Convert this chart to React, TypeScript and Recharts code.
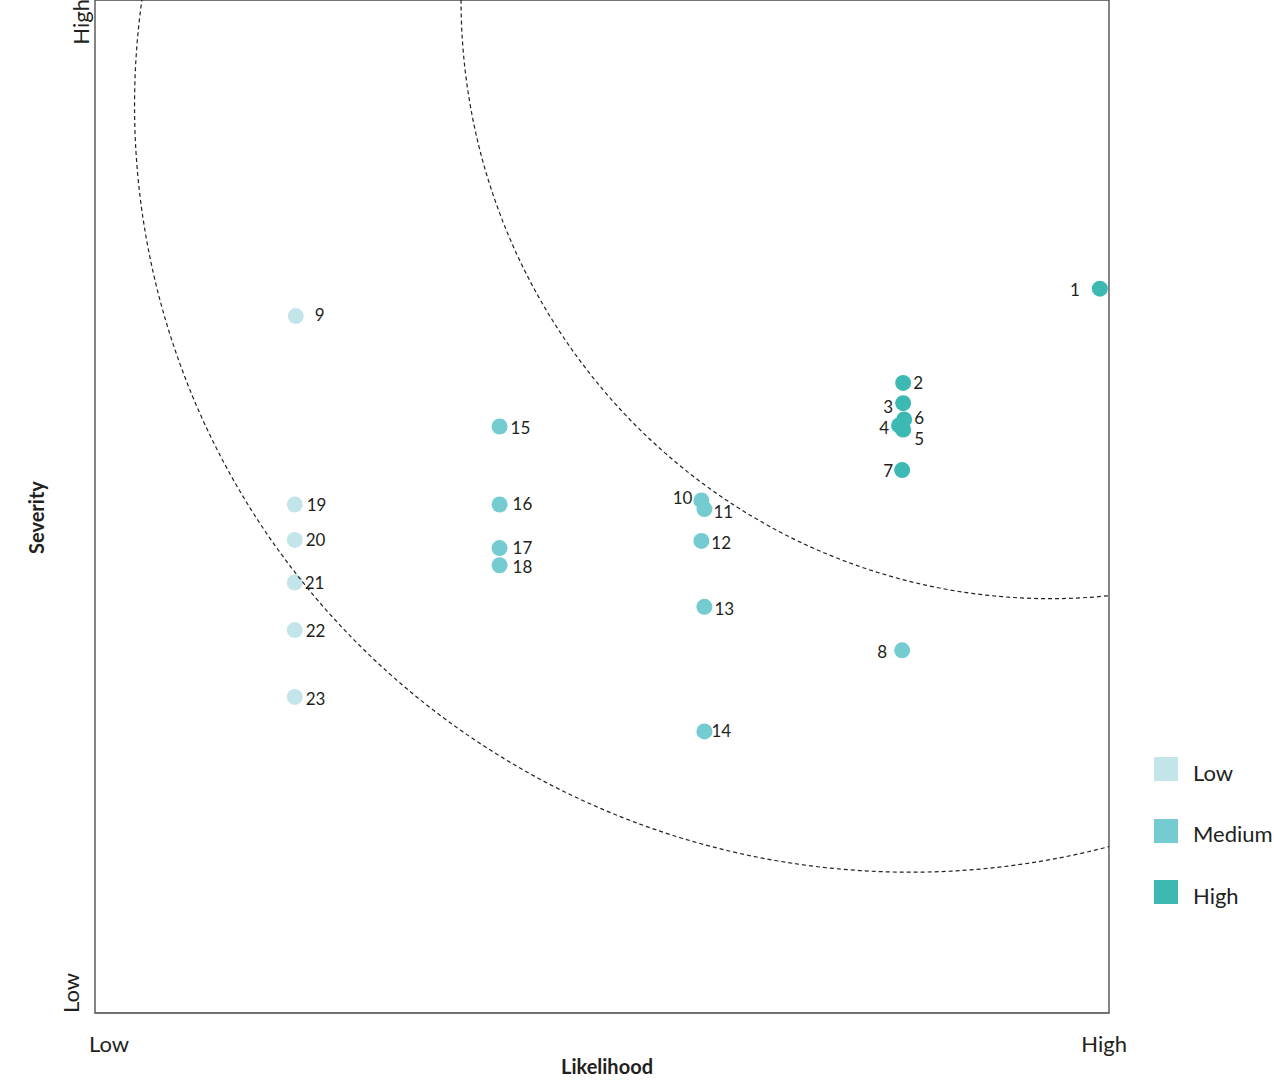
import React from 'react';
import {
  Legend,
  ReferenceArea,
  ReferenceDot,
  Scatter,
  ScatterChart,
  XAxis,
  YAxis,
} from 'recharts';

// risk ids, likelihood (x) and severity (y) on a 0-100 scale
const lowIds = [9, 19, 20, 21, 22, 23];
const lowLikelihood = [19.8, 19.7, 19.7, 19.7, 19.7, 19.7];
const lowSeverity = [68.8, 50.2, 46.7, 42.5, 37.8, 31.2];

const mediumIds = [8, 10, 11, 12, 13, 14, 15, 16, 17, 18];
const mediumLikelihood = [79.6, 59.8, 60.1, 59.8, 60.1, 60.1, 39.9, 39.9, 39.9, 39.9];
const mediumSeverity = [35.8, 50.6, 49.75, 46.6, 40.1, 27.8, 57.9, 50.2, 45.9, 44.2];

const highIds = [1, 2, 3, 4, 5, 6, 7];
const highLikelihood = [99.1, 79.7, 79.7, 79.3, 79.7, 79.8, 79.6];
const highSeverity = [71.5, 62.2, 60.2, 58.0, 57.6, 58.6, 53.6];

// dashed threshold arcs: centre and radii in data units
const arcCenterX = [80.4, 94.2];
const arcCenterY = [89.6, 100];
const arcRadiusX = [76.5, 58.1];
const arcRadiusY = [75.7, 59.1];

const axisTicks = [0, 100];
const axisTickLabels = ['Low', 'High'];

const COLORS = { Low: '#c3e5e9', Medium: '#74cbd0', High: '#3bb9b2' };
const TEXT = '#231f20';
const FONT = 'Lato, "Open Sans", sans-serif';

const WIDTH = 1274;
const HEIGHT = 1082;
const PLOT_LEFT = 95;
const PLOT_TOP = 0;
const PLOT_W = 1014;
const PLOT_H = 1013;

const toRows = (ids: number[], xs: number[], ys: number[]) =>
  ids.map((id, i) => ({ id, x: xs[i], y: ys[i] }));

const series = [
  { name: 'Low', data: toRows(lowIds, lowLikelihood, lowSeverity) },
  { name: 'Medium', data: toRows(mediumIds, mediumLikelihood, mediumSeverity) },
  { name: 'High', data: toRows(highIds, highLikelihood, highSeverity) },
] as const;

const arcs = arcCenterX.map((cx, i) => ({
  cx,
  cy: arcCenterY[i],
  rx: arcRadiusX[i],
  ry: arcRadiusY[i],
}));

// label placement next to each dot: [dx, dy, anchor]
const labelPlacement: Record<number, [number, number, 'start' | 'end']> = {
  1: [-20, 1, 'end'],
  3: [-10, 4, 'end'],
  4: [-10, 3, 'end'],
  5: [11, 9, 'start'],
  6: [10, -1, 'start'],
  7: [-9, 1, 'end'],
  8: [-15, 2, 'end'],
  9: [19, -1, 'start'],
  10: [-9, -2, 'end'],
  11: [9, 3, 'start'],
  12: [10, 2, 'start'],
  13: [10, 2, 'start'],
  14: [7, 0, 'start'],
  15: [11, 2, 'start'],
  16: [13, 0, 'start'],
  17: [13, 0, 'start'],
  18: [13, 2, 'start'],
  19: [12, 1, 'start'],
  20: [11, 0, 'start'],
  21: [10, 1, 'start'],
  22: [11, 1, 'start'],
  23: [11, 2, 'start'],
};

function makeDot(color: string) {
  return (props: any) => {
    const { cx, cy, payload } = props;
    const [dx, dy, anchor] = labelPlacement[payload.id] ?? [10, 0, 'start'];
    return (
      <g>
        <circle cx={cx} cy={cy} r={8} fill={color} />
        <text
          x={cx + dx}
          y={cy + dy + 6}
          textAnchor={anchor}
          fontSize={17}
          fontFamily={FONT}
          fill={TEXT}
        >
          {payload.id}
        </text>
      </g>
    );
  };
}

function makeArc(rx: number, ry: number) {
  return (props: any) => (
    <g>
      <defs>
        <clipPath id="plot-clip">
          <rect x={PLOT_LEFT} y={PLOT_TOP} width={PLOT_W} height={PLOT_H} />
        </clipPath>
      </defs>
      <ellipse
        cx={props.cx}
        cy={props.cy}
        rx={(rx * PLOT_W) / 100}
        ry={(ry * PLOT_H) / 100}
        fill="none"
        stroke="#222"
        strokeWidth={1.2}
        strokeDasharray="4 3"
        clipPath="url(#plot-clip)"
      />
    </g>
  );
}

const XTick = (props: any) => {
  const { x, payload } = props;
  const first = payload.value === axisTicks[0];
  return (
    <text
      x={first ? x - 6 : x + 18}
      y={PLOT_TOP + PLOT_H + 39}
      textAnchor={first ? 'start' : 'end'}
      fontSize={22}
      fontFamily={FONT}
      fill={TEXT}
    >
      {axisTickLabels[axisTicks.indexOf(payload.value)]}
    </text>
  );
};

const YTick = (props: any) => {
  const { payload } = props;
  const first = payload.value === axisTicks[0];
  return (
    <text
      transform={`translate(${first ? 79 : 89}, ${first ? PLOT_TOP + PLOT_H : PLOT_TOP - 1}) rotate(-90)`}
      textAnchor={first ? 'start' : 'end'}
      fontSize={22}
      fontFamily={FONT}
      fill={TEXT}
    >
      {axisTickLabels[axisTicks.indexOf(payload.value)]}
    </text>
  );
};

const LegendBox = () => (
  <div style={{ fontFamily: FONT }}>
    {series.map((s) => (
      <div
        key={s.name}
        style={{ display: 'flex', alignItems: 'center', height: 24, marginBottom: 37.5 }}
      >
        <div style={{ width: 24, height: 24, background: COLORS[s.name] }} />
        <span style={{ marginLeft: 15, fontSize: 22, color: TEXT, position: 'relative', top: 3 }}>
          {s.name}
        </span>
      </div>
    ))}
  </div>
);

export default function App() {
  return (
    <div style={{ position: 'absolute', left: 0, top: 0, width: WIDTH, height: HEIGHT, background: '#fff' }}>
      <ScatterChart
        width={WIDTH}
        height={HEIGHT}
        margin={{ top: PLOT_TOP, right: WIDTH - PLOT_LEFT - PLOT_W, bottom: 0, left: 0 }}
      >
        <XAxis
          type="number"
          dataKey="x"
          domain={[0, 100]}
          ticks={axisTicks}
          height={HEIGHT - PLOT_TOP - PLOT_H}
          axisLine={false}
          tickLine={false}
          tick={<XTick />}
          label={{
            value: 'Likelihood',
            position: 'insideBottom',
            offset: 8,
            dx: 5,
            fontSize: 20,
            fontWeight: 700,
            fontFamily: FONT,
            fill: TEXT,
          }}
        />
        <YAxis
          type="number"
          dataKey="y"
          domain={[0, 100]}
          ticks={axisTicks}
          width={PLOT_LEFT}
          axisLine={false}
          tickLine={false}
          tick={<YTick />}
          label={{
            content: (p: any) => {
              const vb = p.viewBox;
              return (
                <text
                  transform={`translate(${vb.x + 44}, ${vb.y + vb.height / 2 + 11}) rotate(-90)`}
                  textAnchor="middle"
                  fontSize={20}
                  fontWeight={700}
                  fontFamily={FONT}
                  fill={TEXT}
                >
                  Severity
                </text>
              );
            },
          }}
        />
        <ReferenceArea
          x1={0}
          x2={100}
          y1={0}
          y2={100}
          fill="none"
          stroke="#444"
          strokeWidth={1.3}
          ifOverflow="visible"
        />
        {series.map((s) => (
          <Scatter
            key={s.name}
            name={s.name}
            data={s.data as any}
            fill={COLORS[s.name]}
            shape={makeDot(COLORS[s.name])}
            isAnimationActive={false}
          />
        ))}
        {arcs.map((a, i) => (
          <ReferenceDot
            key={i}
            x={a.cx}
            y={a.cy}
            r={1}
            ifOverflow="visible"
            shape={makeArc(a.rx, a.ry)}
          />
        ))}
        <Legend
          layout="horizontal"
          align="center"
          verticalAlign="middle"
          content={<LegendBox />}
          wrapperStyle={{ left: 1154, top: 757, width: 120 }}
        />
      </ScatterChart>
    </div>
  );
}
